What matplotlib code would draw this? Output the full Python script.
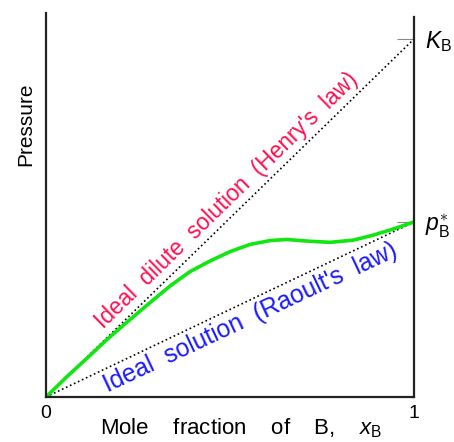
import matplotlib
matplotlib.use("Agg")
import matplotlib.pyplot as plt

plt.rcParams["font.family"] = ["Liberation Sans", "DejaVu Sans"]
plt.rcParams["mathtext.fontset"] = "custom"
plt.rcParams["mathtext.rm"] = "Liberation Sans"
plt.rcParams["mathtext.it"] = "Liberation Sans:italic"
plt.rcParams["mathtext.bf"] = "Liberation Sans:bold"

# Henry constant and pure-B vapour pressure (relative units)
K_B = 1.0
p_B_star = 0.489

# Mole fraction of B and the real-solution vapour pressure of B
x_B = [0.0, 0.057, 0.111, 0.165, 0.219, 0.275, 0.337, 0.391, 0.446,
       0.500, 0.554, 0.609, 0.654, 0.717, 0.772, 0.834, 0.889, 0.943, 1.0]
p_B = [0.0, 0.057, 0.108, 0.160, 0.208, 0.257, 0.310, 0.350, 0.380,
       0.406, 0.426, 0.437, 0.440, 0.435, 0.432, 0.438, 0.452, 0.469, 0.489]

x_ends = [0.0, 1.0]
x_tick_labels = ["0", "1"]
y_tick_labels = [r"$p_{\rm B}^{\ast}$", r"$K_{\rm B}$"]

fig = plt.figure(figsize=(4.54, 4.42), dpi=100)
ax = fig.add_axes([46 / 454, 45 / 442, 368 / 454, 384 / 442])

ax.set_xlim(0, 1)
ax.set_ylim(0, 384 / 358 * K_B)

# Ideal limiting laws
ax.plot(x_ends, [0, K_B], color="black", linestyle=":", linewidth=1.2)
ax.plot(x_ends, [0, p_B_star], color="black", linestyle=":", linewidth=1.2)

# Real solution
ax.plot(x_B, p_B, color="#11e611", linewidth=2.6, solid_capstyle="round",
        solid_joinstyle="round")

ax.text(0.492, 0.548, "Ideal  dilute  solution  (Henry's  law)",
        color="#ff1050", fontsize=16.3, rotation=44.2,
        rotation_mode="anchor", ha="center", va="center")
ax.text(0.556, 0.221, "Ideal  solution  (Raoult's  law)",
        color="#1a1aff", fontsize=17.8, rotation=25.2,
        rotation_mode="anchor", ha="center", va="center")

# Spines
for s in ("left", "bottom", "right"):
    ax.spines[s].set_linewidth(1.6)
    ax.spines[s].set_color("#222222")
ax.spines["top"].set_visible(False)
ax.spines["right"].set_bounds(0, 380 / 358 * K_B)

# Axis ticks
ax.set_xticks(x_ends)
ax.set_xticklabels(x_tick_labels, fontsize=14)
ax.tick_params(axis="x", length=0, pad=6)

ax.yaxis.tick_right()
ax.set_yticks([p_B_star, K_B])
ax.set_yticklabels(y_tick_labels, fontsize=16.5)
ax.tick_params(axis="y", direction="in", length=12, width=0.8,
               color="#888888", pad=8)

ax.set_xlabel(r"Mole    fraction    of    B,    $x_{\rm B}$", fontsize=16)
ax.xaxis.set_label_coords(0.53, -0.050)
ax.set_ylabel("Pressure", fontsize=15)
ax.yaxis.set_label_position("left")
ax.yaxis.set_label_coords(-0.03, 0.71)

fig.savefig("out.png", dpi=100, facecolor="white")
